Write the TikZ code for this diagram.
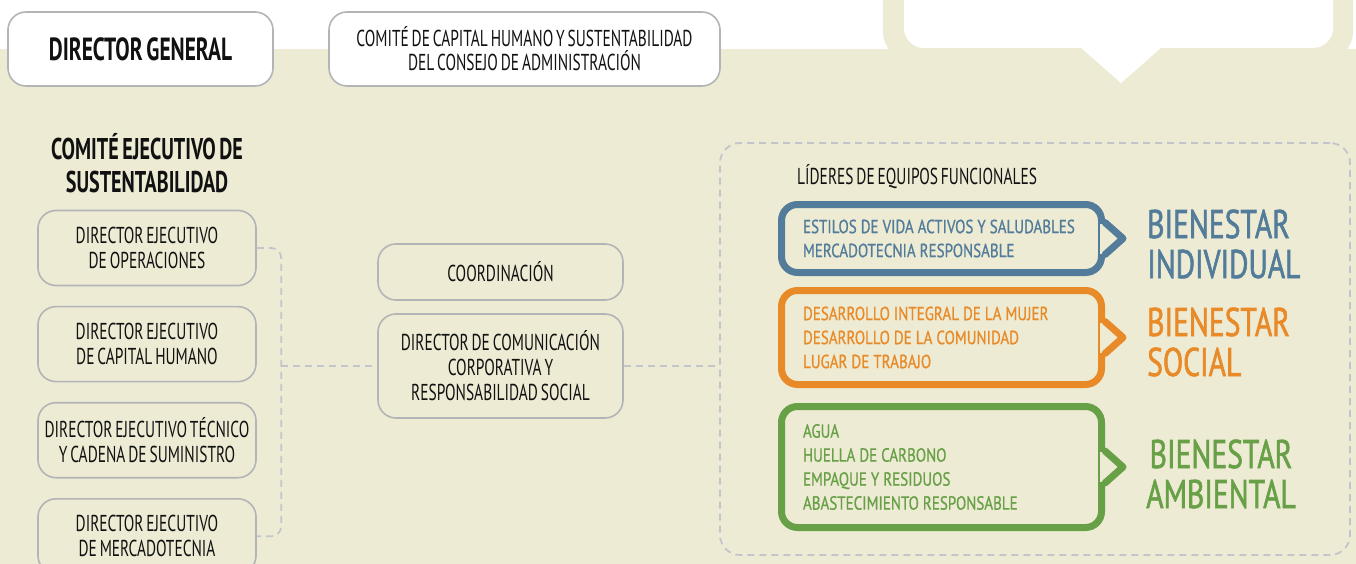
\documentclass[tikz,border=0pt]{standalone}
\usepackage{fontspec}
\setmainfont{PT Sans}[FakeStretch=0.67, WordSpace=0.7]
\newfontfamily\media{PT Sans}[FakeStretch=0.79, WordSpace=1, FakeBold=0.8]
\newfontfamily\gruesa{PT Sans}[FakeStretch=0.74, WordSpace=0.7, FakeBold=1.4]
\usetikzlibrary{positioning}
\definecolor{fondo}{HTML}{EDEBD4}
\definecolor{bordegris}{HTML}{B3B4B6}
\definecolor{guiongris}{HTML}{C4C5CC}
\definecolor{azul}{HTML}{527C9A}
\definecolor{naranja}{HTML}{E98A28}
\definecolor{verde}{HTML}{68A047}
\definecolor{tinta}{HTML}{111111}

\tikzset{
  caja/.style={draw=bordegris, line width=1.6pt, rounded corners=18pt, align=center, text=tinta,
    minimum width=218pt, minimum height=75pt, font=\fontsize{23}{25}\selectfont},
  guion/.style={draw=guiongris, line width=1.8pt, dash pattern=on 7pt off 5pt, rounded corners=10pt},
  globo/.style={draw=#1, text=#1, line width=7pt, rounded corners=16pt, align=flush left, text width=277pt,
    inner xsep=21.5pt, inner ysep=0pt, minimum width=320pt, font=\media\fontsize{19}{24}\selectfont},
  pico/.style={draw=#1, line width=7pt, line join=round, line cap=round},
  titulo/.style={text=#1, inner sep=0pt, align=left, font=\gruesa\fontsize{40}{40}\selectfont}
}

\begin{document}
\begin{tikzpicture}[x=1pt,y=-1pt]
    \clip (0,0) rectangle (1356,564);

    % Background and top bubble
    \fill[white] (0,0) rectangle (1356,49);
    \fill[fondo] (0,49) rectangle (1356,564);
    \fill[fondo, rounded corners=28pt] (883,-40) rectangle (1353,60);
    \fill[white, rounded corners=20pt] (904,-40) rectangle (1333,48);
    \fill[white] (1080,47) -- (1121,83) -- (1162,47) -- cycle;

    % Top boxes
    \node[caja, fill=white, minimum width=265pt, minimum height=74pt, font=\bfseries\fontsize{32}{32}\selectfont] (dg) at (140.5,49) {DIRECTOR GENERAL};
    \node[caja, fill=white, minimum width=391pt, minimum height=74pt, font=\fontsize{23}{24}\selectfont] (cch) at (524.5,49) {COMITÉ DE CAPITAL HUMANO Y SUSTENTABILIDAD\\DEL CONSEJO DE ADMINISTRACIÓN};

    % Executive committee
    \node[align=center, text=tinta, font=\bfseries\fontsize{30}{33}\selectfont] (cejs) at (147,163) {COMITÉ EJECUTIVO DE\\SUSTENTABILIDAD};
    \node[caja] (op) at (147,248) {DIRECTOR EJECUTIVO\\DE OPERACIONES};
    \node[caja, below=19.5pt of op] (ch) {DIRECTOR EJECUTIVO\\DE CAPITAL HUMANO};
    \node[caja, below=19.5pt of ch] (tec) {DIRECTOR EJECUTIVO TÉCNICO\\Y CADENA DE SUMINISTRO};
    \node[caja, below=19.5pt of tec] (mkt) {DIRECTOR EJECUTIVO\\DE MERCADOTECNIA};

    % Middle boxes
    \node[caja, minimum width=245pt, minimum height=56pt] (coord) at (500.5,272) {COORDINACIÓN};
    \node[caja, minimum width=245pt, minimum height=104pt] (dcr) at (500.5,366) {DIRECTOR DE COMUNICACIÓN\\CORPORATIVA Y\\RESPONSABILIDAD SOCIAL};

    % Functional leaders frame
    \node[guion, rounded corners=20pt, minimum width=630pt, minimum height=412pt] (lid) at (1035,349) {};
    \node[anchor=west, inner sep=0pt, text=tinta, font=\fontsize{23}{24}\selectfont] (lider) at (797,177) {LÍDERES DE EQUIPOS FUNCIONALES};

    % Dashed connectors
    \coordinate (brk) at ([xshift=-96pt]dcr.west);
    \draw[guion] (op.east) -| (brk) |- (mkt.east);
    \draw[guion] (brk) -- (dcr.west);
    \draw[guion] (dcr.east) -- (dcr.east -| lid.west);

    % Speech bubbles
    \node[globo=azul, minimum height=68pt] (ind) at (941.5,238.5) {ESTILOS DE VIDA ACTIVOS Y SALUDABLES\\MERCADOTECNIA RESPONSABLE};
    \node[globo=naranja, minimum height=94pt] (soc) at (941.5,337.5) {DESARROLLO INTEGRAL DE LA MUJER\\DESARROLLO DE LA COMUNIDAD\\LUGAR DE TRABAJO};
    \node[globo=verde, minimum height=121pt] (amb) at (941.5,467) {AGUA\\HUELLA DE CARBONO\\EMPAQUE Y RESIDUOS\\ABASTECIMIENTO RESPONSABLE};
    \foreach \b/\c in {ind/azul, soc/naranja, amb/verde} {
        \fill[fondo] ([xshift=-5pt,yshift=15pt]\b.east) rectangle ([xshift=5pt,yshift=-15pt]\b.east);
        \draw[pico=\c] ([yshift=16pt]\b.east) -- ([xshift=18pt]\b.east) -- ([yshift=-16pt]\b.east);
    }

    % Titles
    \node[titulo=azul, anchor=west] (bi) at (1147,244) {BIENESTAR\\INDIVIDUAL};
    \node[titulo=naranja, anchor=west] (bs) at (1147,342) {BIENESTAR\\SOCIAL};
    \node[titulo=verde, align=center] (ba) at (1221,474) {BIENESTAR\\AMBIENTAL};
\end{tikzpicture}
\end{document}
